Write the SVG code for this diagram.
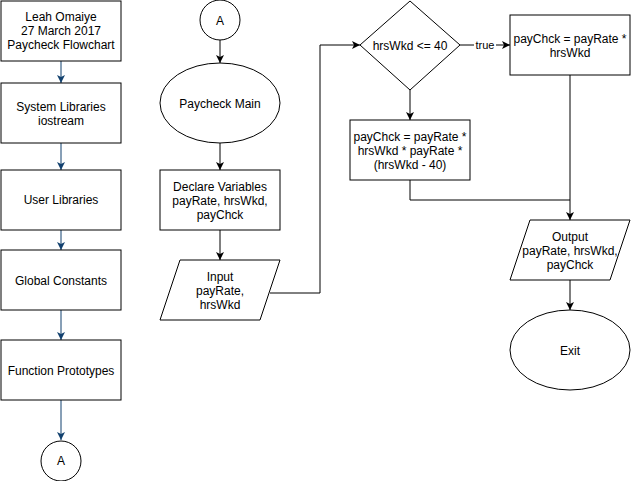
<svg xmlns="http://www.w3.org/2000/svg" width="631" height="481" viewBox="0 0 631 481">
<style>
.s{fill:#fff;stroke:#000;stroke-width:1}
.t{font-family:"Liberation Sans",Arial,sans-serif;font-size:12px;fill:#000;text-anchor:middle}
.c{fill:none;stroke:#000;stroke-width:1}
.b{fill:none;stroke:#11406e;stroke-width:1}
</style>
<defs>
<marker id="ak" markerWidth="10" markerHeight="10" refX="8" refY="4" orient="auto" markerUnits="userSpaceOnUse"><path d="M0,0 L8,4 L0,8 L2,4 Z" fill="#000"/></marker>
<marker id="ab" markerWidth="10" markerHeight="10" refX="8" refY="4" orient="auto" markerUnits="userSpaceOnUse"><path d="M0,0 L8,4 L0,8 L2,4 Z" fill="#11406e"/></marker>
</defs>
<rect width="631" height="481" fill="#fff"/>
<g id="connectors">
<path class="b" d="M61,61 V83" marker-end="url(#ab)"/>
<path class="b" d="M61,143 V170" marker-end="url(#ab)"/>
<path class="b" d="M61,230 V250" marker-end="url(#ab)"/>
<path class="b" d="M61,310 V340" marker-end="url(#ab)"/>
<path class="b" d="M61,400 V440" marker-end="url(#ab)"/>
<path class="c" d="M220,40 V63" marker-end="url(#ak)"/>
<path class="c" d="M220,143 V170" marker-end="url(#ak)"/>
<path class="c" d="M220,230 V260" marker-end="url(#ak)"/>
<path class="c" d="M270,293 H320 V45 H360" marker-end="url(#ak)"/>
<path class="c" d="M460,45 H510" marker-end="url(#ak)"/>
<path class="c" d="M410,90 V120" marker-end="url(#ak)"/>
<path class="c" d="M410,180 V200 H570"/>
<path class="c" d="M570,75 V220" marker-end="url(#ak)"/>
<path class="c" d="M570,280 V310" marker-end="url(#ak)"/>
<rect x="474" y="38" width="22" height="14" fill="#fff"/>
<text class="t" x="485" y="49" style="font-size:11px">true</text>
</g>
<g id="header"><rect class="s" x="1" y="1" width="120" height="60"/><text class="t" x="61" y="21">Leah Omaiye</text><text class="t" x="61" y="35">27 March 2017</text><text class="t" x="61" y="49">Paycheck Flowchart</text></g>
<g id="syslib"><rect class="s" x="1" y="83" width="120" height="60"/><text class="t" x="61" y="111">System Libraries</text><text class="t" x="61" y="125">iostream</text></g>
<g id="userlib"><rect class="s" x="1" y="170" width="120" height="60"/><text class="t" x="61" y="204">User Libraries</text></g>
<g id="globals"><rect class="s" x="1" y="250" width="120" height="60"/><text class="t" x="61" y="285">Global Constants</text></g>
<g id="protos"><rect class="s" x="1" y="340" width="120" height="60"/><text class="t" x="61" y="375">Function Prototypes</text></g>
<g id="connA1"><circle class="s" cx="61" cy="461" r="20"/><text class="t" x="61" y="465">A</text></g>
<g id="connA2"><circle class="s" cx="220" cy="20" r="20"/><text class="t" x="220" y="25">A</text></g>
<g id="main"><ellipse class="s" cx="220" cy="103" rx="60" ry="40"/><text class="t" x="220" y="108">Paycheck Main</text></g>
<g id="declare"><rect class="s" x="160" y="170" width="120" height="60"/><text class="t" x="220" y="191">Declare Variables</text><text class="t" x="220" y="205">payRate, hrsWkd,</text><text class="t" x="220" y="219">payChck</text></g>
<g id="input"><path class="s" d="M180,260 H280 L260,320 H160 Z"/><text class="t" x="220" y="281">Input</text><text class="t" x="220" y="295">payRate,</text><text class="t" x="220" y="309">hrsWkd</text></g>
<g id="decision"><path class="s" d="M410,1 L460,45 L410,90 L360,45 Z"/><text class="t" x="410" y="50">hrsWkd &lt;= 40</text></g>
<g id="calc1"><rect class="s" x="510" y="15" width="120" height="60"/><text class="t" x="570" y="43">payChck = payRate *</text><text class="t" x="570" y="57">hrsWkd</text></g>
<g id="calc2"><rect class="s" x="350" y="120" width="120" height="60"/><text class="t" x="410" y="141">payChck = payRate *</text><text class="t" x="410" y="155">hrsWkd * payRate *</text><text class="t" x="410" y="169">(hrsWkd - 40)</text></g>
<g id="output"><path class="s" d="M530,220 H630 L610,280 H510 Z"/><text class="t" x="570" y="241">Output</text><text class="t" x="570" y="255">payRate, hrsWkd,</text><text class="t" x="570" y="269">payChck</text></g>
<g id="exit"><ellipse class="s" cx="570" cy="350" rx="60" ry="40"/><text class="t" x="570" y="355">Exit</text></g>
</svg>
